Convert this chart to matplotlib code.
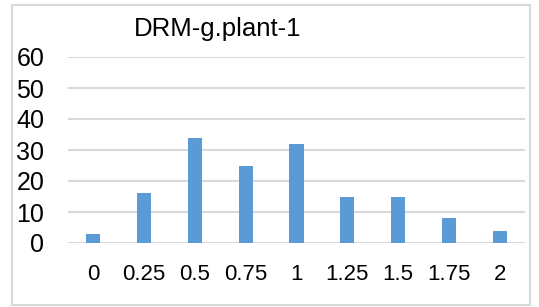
import numpy as np
import matplotlib.pyplot as plt
from matplotlib.patches import Rectangle

# Data
categories = ['0', '0.25', '0.5', '0.75', '1', '1.25', '1.5', '1.75', '2']
counts = [3, 16, 34, 25, 32, 15, 15, 8, 4]
yticks = [0, 10, 20, 30, 40, 50, 60]

plt.rcParams['font.family'] = ['Liberation Sans', 'DejaVu Sans']

W, H = 539, 307
fig = plt.figure(figsize=(W / 100, H / 100), dpi=100)

# light grey chart border
fig.patches.append(Rectangle((12 / W, 1 - 305 / H), 518 / W, 300 / H,
                             transform=fig.transFigure, fill=False,
                             edgecolor='#d9d9d9', linewidth=1.5))

ax = fig.add_axes([68 / W, 1 - 243 / H, 457 / W, 186 / H])
x = np.arange(len(categories))
ax.bar(x, counts, width=0.28, color='#5b9bd5', zorder=3)

ax.set_xlim(-0.5, len(categories) - 0.5)
ax.set_ylim(0, 60)
ax.set_yticks(yticks)
ax.set_xticks(x)
ax.set_xticklabels(categories)
ax.yaxis.grid(True, color='#d9d9d9', linewidth=1.5, zorder=0)
for s in ax.spines.values():
    s.set_visible(False)
ax.tick_params(axis='both', length=0, colors='black')
ax.tick_params(axis='y', pad=17, labelsize=18)
ax.tick_params(axis='x', pad=15, labelsize=16)

fig.text(218 / W, 1 - 29 / H, 'DRM-g.plant-1', ha='center', va='center', fontsize=18.5)

fig.savefig('out.png', dpi=100)
